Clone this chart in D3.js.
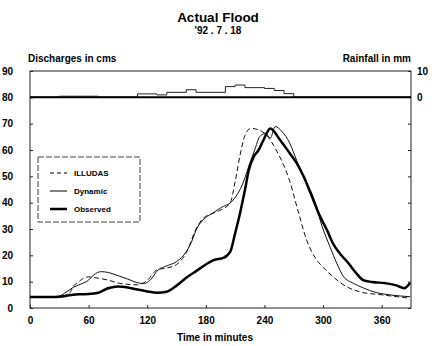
<!DOCTYPE html>
<html lang="en">
<head>
<meta charset="UTF-8">
<title>Actual Flood '92.7.18</title>
<script src="https://d3js.org/d3.v7.min.js"></script>
<style>
    body { margin: 0; background: #fff; }
    svg { display: block; font-family: 'Liberation Sans', Arial, sans-serif; font-weight: bold; }
</style>
</head>
<body>
<div id="chart"></div>
<script>
// time (minutes) / discharge (cms) pairs
const obsTime = [0, 10, 20, 30, 40, 50, 60, 70, 80, 90, 100, 110, 120, 130, 140, 150, 160, 170, 180, 188, 198, 205, 210, 215, 220, 224, 229, 234, 239, 246, 256, 266, 273, 280, 290, 297, 304, 310, 317, 326, 334, 341, 350, 364, 375, 383, 389];
const obsQ = [4.2, 4.2, 4.2, 4.3, 4.8, 5.2, 5.3, 5.8, 7.5, 8.2, 7.8, 7, 6.3, 5.8, 6.2, 8.5, 11.5, 14, 16.5, 18.2, 19, 21.4, 28.4, 36, 44.8, 52.4, 57.5, 60, 63.8, 68.2, 63.8, 58.7, 55, 50, 41, 34.7, 29.6, 24.6, 20.8, 17, 13.2, 10.6, 9.9, 9.4, 8.6, 7.5, 9.5];

const dynTime = [0, 10, 20, 30, 35, 45, 55, 60, 65, 73, 80, 90, 100, 110, 117, 123, 131, 140, 150, 160, 167, 170, 177, 187, 195, 208, 218, 225, 230, 235, 241, 246, 251, 258, 266, 273, 280, 291, 299, 307, 314, 321, 331, 340, 355, 370, 389];
const dynQ = [4, 4, 4, 4.5, 5.5, 8, 9.5, 10.6, 12.5, 13.8, 13.5, 12.3, 11, 9.6, 9.3, 10.6, 14.4, 16, 17.6, 21.4, 26.6, 29.6, 33.4, 36, 38, 41, 47.4, 55, 60, 65, 66.3, 64.5, 68.9, 67, 62.5, 56, 50, 41, 31, 23.3, 17, 11.9, 9.4, 7.8, 5.8, 4.9, 4.3];

const illTime = [0, 10, 20, 30, 40, 45, 50, 55, 60, 70, 80, 90, 100, 110, 120, 130, 140, 150, 160, 170, 177, 184, 194, 205, 210, 215, 220, 226, 235, 242, 252, 266, 275, 283, 292, 300, 310, 318, 337, 360, 389];
const illQ = [4, 4, 4, 4.3, 5.5, 8.5, 10, 11.4, 11.8, 11.3, 10.6, 9.5, 9, 8.8, 10.5, 14.5, 15.2, 16.5, 21, 30, 34, 35.5, 37, 40, 48, 58, 65.5, 68.2, 67.5, 65.7, 60, 48, 36, 26, 19, 15.5, 12, 9.5, 6.2, 5, 3.7];

// rainfall blocks: start minute, end minute, depth (mm)
const rainStart = [30, 110, 130, 140, 160, 170, 200, 210, 220, 240, 250, 260];
const rainEnd = [70, 130, 140, 160, 170, 200, 210, 220, 240, 250, 260, 270];
const rainMm = [0.3, 1.2, 0.8, 1.8, 2.8, 1.8, 4.0, 4.6, 3.6, 3.3, 2.5, 1.3];

const xTicks = [0, 60, 120, 180, 240, 300, 360];
const yTicks = [0, 10, 20, 30, 40, 50, 60, 70, 80, 90];
const rainTicks = [0, 10];

const W = 435, H = 346;
const svg = d3.select("#chart").append("svg").attr("width", W).attr("height", H);

const x = d3.scaleLinear().domain([0, 390]).range([30, 411]);
const y = d3.scaleLinear().domain([0, 90]).range([308, 71]);
const r = d3.scaleLinear().domain([0, 10]).range([97, 71]);

// titles
svg.append("text").attr("x", 218).attr("y", 22).attr("text-anchor", "middle")
    .attr("font-size", 13.5).text("Actual Flood");
svg.append("text").attr("x", 218).attr("y", 34).attr("text-anchor", "middle")
    .attr("font-size", 10).text("'92 . 7 . 18");
svg.append("text").attr("x", 28).attr("y", 62).attr("font-size", 10).text("Discharges in cms");
svg.append("text").attr("x", 411).attr("y", 62).attr("text-anchor", "end")
    .attr("font-size", 10).text("Rainfall in mm");
svg.append("text").attr("x", 215).attr("y", 341).attr("text-anchor", "middle")
    .attr("font-size", 10).text("Time in minutes");

// frame
svg.append("rect").attr("x", x(0)).attr("y", y(90))
    .attr("width", x(390) - x(0)).attr("height", y(0) - y(90))
    .attr("fill", "none").attr("stroke", "#222").attr("stroke-width", 1);

// axes with inward ticks
const left = svg.append("g").attr("transform", `translate(${x(0)},0)`)
    .call(d3.axisLeft(y).tickValues(yTicks).tickSize(-3).tickPadding(17).tickFormat(d3.format("d")));
const right = svg.append("g").attr("transform", `translate(${x(390)},0)`)
    .call(d3.axisRight(y).tickValues(yTicks.filter(d => d < 80)).tickSize(-3).tickFormat(""));
const rightRain = svg.append("g").attr("transform", `translate(${x(390)},0)`)
    .call(d3.axisRight(r).tickValues(rainTicks).tickSize(-3).tickPadding(6).tickFormat(d3.format("d")));
const bottom = svg.append("g").attr("transform", `translate(0,${y(0)})`)
    .call(d3.axisBottom(x).tickValues(xTicks).tickSize(-3).tickPadding(9).tickFormat(d3.format("d")));

[left, right, rightRain, bottom].forEach(g => {
    g.select(".domain").remove();
    g.selectAll("line").attr("stroke", "#222");
    g.selectAll("text").attr("font-size", 10).attr("font-weight", "bold").attr("fill", "#000")
        .attr("font-family", "'Liberation Sans', Arial, sans-serif");
});

// rainfall hyetograph: outline of the steps above the 80 line
const rainPts = [[0, 0]];
rainStart.forEach((s, i) => {
    const e = rainEnd[i];
    if (i === 0 || rainEnd[i - 1] !== s) rainPts.push([s, 0]);
    rainPts.push([s, rainMm[i]], [e, rainMm[i]]);
    if (i === rainStart.length - 1 || rainStart[i + 1] !== e) rainPts.push([e, 0]);
});
rainPts.push([390, 0]);
svg.append("path").datum(rainPts)
    .attr("d", d3.line().x(d => x(d[0])).y(d => r(d[1])))
    .attr("fill", "none").attr("stroke", "#222").attr("stroke-width", 1);

svg.append("line").attr("x1", x(0)).attr("x2", x(390)).attr("y1", y(80)).attr("y2", y(80))
    .attr("stroke", "#000").attr("stroke-width", 2);

// hydrographs
const line = d3.line().x(d => x(d[0])).y(d => y(d[1])).curve(d3.curveMonotoneX);
const zip = (t, q) => t.map((v, i) => [v, q[i]]);

svg.append("path").datum(zip(illTime, illQ)).attr("d", line)
    .attr("fill", "none").attr("stroke", "#111").attr("stroke-width", 1).attr("stroke-dasharray", "5,3");
svg.append("path").datum(zip(dynTime, dynQ)).attr("d", line)
    .attr("fill", "none").attr("stroke", "#111").attr("stroke-width", 1);
svg.append("path").datum(zip(obsTime, obsQ)).attr("d", line)
    .attr("fill", "none").attr("stroke", "#000").attr("stroke-width", 2.5);

// legend
const legend = svg.append("g");
legend.append("rect").attr("x", 38).attr("y", 157).attr("width", 102).attr("height", 65)
    .attr("fill", "#fff").attr("stroke", "#444").attr("stroke-width", 1).attr("stroke-dasharray", "6,2");
const legItems = [
    { label: "ILLUDAS", width: 1, dash: "4,3" },
    { label: "Dynamic", width: 1, dash: null },
    { label: "Observed", width: 2.5, dash: null }
];
legItems.forEach((d, i) => {
    const ly = 173 + i * 18;
    legend.append("line").attr("x1", 50).attr("x2", 67).attr("y1", ly).attr("y2", ly)
        .attr("stroke", "#000").attr("stroke-width", d.width).attr("stroke-dasharray", d.dash);
    legend.append("text").attr("x", 74).attr("y", ly + 3).attr("font-size", 8).text(d.label);
});
</script>
</body>
</html>
